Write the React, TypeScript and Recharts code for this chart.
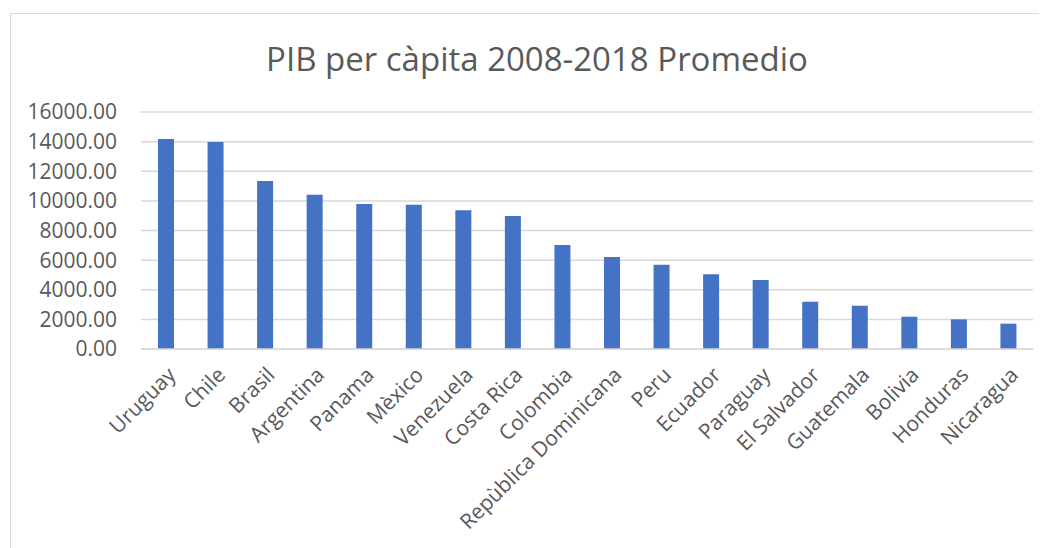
import React from "react";
import { BarChart, Bar, XAxis, YAxis, CartesianGrid } from "recharts";

const countries = [
  "Uruguay", "Chile", "Brasil", "Argentina", "Panama", "Mèxico", "Venezuela", "Costa Rica",
  "Colombia", "Repùblica Dominicana", "Peru", "Ecuador", "Paraguay", "El Salvador",
  "Guatemala", "Bolivia", "Honduras", "Nicaragua",
];
const pibValues = [
  14180, 13970, 11340, 10420, 9790, 9740, 9360, 8980,
  7020, 6210, 5690, 5040, 4660, 3190,
  2920, 2180, 2000, 1710,
];
const yTicks = [0, 2000, 4000, 6000, 8000, 10000, 12000, 14000, 16000];
const title = "PIB per càpita 2008-2018 Promedio";

const data = countries.map((c, i) => ({ name: c, value: pibValues[i] }));

const FONT = "'Open Sans', sans-serif";

const XTick = (props: any) => {
  const { x, y, payload } = props;
  const ax = x + 6;
  const ay = y + 14;
  return (
    <text
      x={ax}
      y={ay}
      transform={`rotate(-45, ${ax}, ${ay})`}
      textAnchor="end"
      fill="#595959"
      fontSize={21}
      fontFamily={FONT}
      dy="0.35em"
    >
      {payload.value}
    </text>
  );
};

export default function App() {
  return (
    <div style={{ position: "relative", width: 1039, height: 540, overflow: "hidden", background: "#fff" }}>
      <div
        style={{
          position: "absolute",
          left: 2,
          top: 5,
          width: 1100,
          height: 600,
          border: "1px solid #d9d9d9",
          boxSizing: "border-box",
        }}
      />
      <div
        style={{
          position: "absolute",
          left: 0,
          width: 1058,
          top: 29,
          textAlign: "center",
          fontFamily: FONT,
          fontSize: 33,
          color: "#595959",
          lineHeight: "44px",
          whiteSpace: "nowrap",
        }}
      >
        {title}
      </div>
      <div style={{ position: "absolute", left: 0, top: 0 }}>
        <BarChart
          width={1039}
          height={540}
          data={data}
          margin={{ top: 104, right: 14, left: 8, bottom: 9 }}
          barSize={16}
        >
          <CartesianGrid vertical={false} stroke="#d9d9d9" strokeWidth={1.5} />
          <XAxis
            dataKey="name"
            interval={0}
            height={190}
            axisLine={{ stroke: "#d9d9d9", strokeWidth: 1.5 }}
            tickLine={false}
            tick={<XTick />}
          />
          <YAxis
            width={125}
            domain={[0, 16000]}
            ticks={yTicks}
            interval={0}
            axisLine={false}
            tickLine={false}
            tickSize={0}
            tickMargin={24}
            tickFormatter={(v: number) => v.toFixed(2)}
            tick={{ fill: "#595959", fontSize: 21, fontFamily: FONT }}
          />
          <Bar dataKey="value" fill="#4472C4" isAnimationActive={false} />
        </BarChart>
      </div>
    </div>
  );
}
